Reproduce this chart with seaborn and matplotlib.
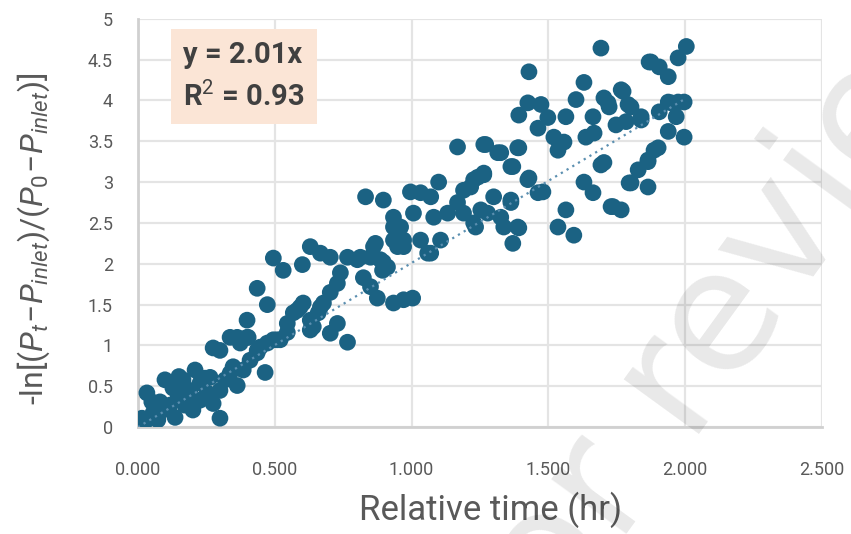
"""
Scatter of linearised pressure decay vs relative time, with zero-intercept fit.
Run: python3 plot.py  -> out.png
"""
import matplotlib
matplotlib.use("Agg")
import matplotlib.pyplot as plt
import numpy as np
import pandas as pd
import seaborn as sns

POINT = "#1b6283"
GRID = "#e4e4e4"
TICK = "#595959"
SLOPE = 2.01
R2 = 0.93

# relative time (hr)
time_hr = [
    0.005, 0.033, 0.055, 0.033, 0.051, 0.081, 0.099, 0.128, 0.136, 0.165,
    0.179, 0.201, 0.209, 0.227, 0.253, 0.264, 0.275, 0.300, 0.300, 0.337,
    0.363, 0.348, 0.385, 0.465, 0.275, 0.300, 0.337, 0.399, 0.374, 0.436,
    0.473, 0.509, 0.546, 0.007, 0.015, 0.073, 0.092, 0.117, 0.147, 0.172,
    0.190, 0.227, 0.245, 0.319, 0.410, 0.150,
    0.495, 0.531, 0.601, 0.630, 0.667, 0.703, 0.766, 0.740, 0.729, 0.802,
    0.850, 0.868, 0.897, 0.894, 0.824, 0.850, 0.875, 0.934, 0.971, 1.004,
    0.934, 0.971, 0.949, 1.033, 1.059, 0.436, 0.473, 0.399, 0.363, 0.403,
    0.447, 0.495, 0.436, 0.546, 0.582, 0.604, 0.641, 0.659, 0.678, 0.703,
    0.703, 0.729, 0.766, 0.630, 0.568, 0.630, 0.520, 0.593, 0.667,
    0.832, 0.897, 0.934, 0.996, 1.033, 1.070, 1.099, 1.007, 1.081, 1.132,
    1.168, 1.216, 1.264, 1.242, 1.190, 1.234, 1.300, 1.278, 1.326, 1.363,
    1.337, 1.388, 1.370, 1.168, 1.264, 1.315, 1.388, 1.363, 1.425, 1.462,
    0.960, 0.934, 0.971, 1.070, 1.106, 0.861, 0.886, 0.813, 0.912,
    1.692, 1.429, 1.875, 1.630, 1.766, 1.601, 1.703, 1.425, 1.473, 1.392,
    1.498, 1.564, 1.663, 1.722, 1.791, 1.839, 1.747, 1.784, 1.462, 1.520,
    1.557, 1.535, 1.637, 1.667, 1.271, 1.326, 1.392, 1.370, 1.886, 1.864,
    1.828, 1.692, 1.429, 1.480, 1.264, 1.227, 1.190, 1.363, 1.253, 1.227,
    1.392, 1.630, 1.663, 1.564, 1.535, 1.593, 1.729, 1.766, 1.795, 1.864,
    2.004, 1.974, 1.868, 1.905, 1.938, 1.773, 1.718, 1.802, 1.839, 1.905,
    1.938, 1.996, 1.967, 1.938, 1.996, 1.901, 1.864, 1.802, 1.736, 1.703,
    1.974, 1.949,
]

# -ln[(Pt - Pinlet)/(P0 - Pinlet)]
log_ratio = [
    0.00, 0.09, 0.17, 0.42, 0.31, 0.31, 0.58, 0.48, 0.12, 0.58,
    0.36, 0.21, 0.70, 0.54, 0.42, 0.61, 0.29, 0.11, 0.45, 0.66,
    0.51, 0.74, 0.70, 0.67, 0.97, 0.94, 1.10, 1.10, 1.03, 0.94,
    1.03, 1.07, 1.16, 0.02, 0.11, 0.09, 0.21, 0.27, 0.39, 0.27,
    0.45, 0.33, 0.60, 0.58, 0.82, 0.62,
    2.07, 1.92, 1.99, 2.21, 2.13, 2.08, 2.08, 1.89, 1.76, 2.05,
    2.08, 2.25, 2.02, 1.92, 1.83, 1.72, 1.58, 1.52, 1.56, 1.58,
    2.45, 2.29, 2.21, 2.29, 2.13, 1.70, 1.50, 1.31, 1.10, 1.10,
    0.98, 1.07, 0.91, 1.27, 1.43, 1.52, 1.23, 1.40, 1.52, 1.65,
    1.15, 1.27, 1.04, 1.31, 1.40, 1.19, 1.07, 1.47, 1.47,
    2.82, 2.78, 2.57, 2.88, 2.87, 2.82, 3.00, 2.62, 2.57, 2.62,
    2.75, 2.94, 3.11, 3.06, 2.62, 2.45, 2.82, 2.62, 2.57, 2.78,
    2.45, 2.45, 2.25, 3.43, 3.46, 3.36, 3.42, 3.19, 3.03, 2.87,
    2.45, 2.29, 2.21, 2.13, 2.29, 2.21, 2.05, 2.08, 1.96,
    4.64, 4.35, 4.47, 4.22, 4.13, 4.01, 4.03, 3.97, 3.95, 3.82,
    3.79, 3.80, 3.80, 3.92, 3.95, 3.80, 3.70, 3.74, 3.66, 3.55,
    3.49, 3.39, 3.55, 3.60, 3.46, 3.36, 3.42, 3.19, 3.39, 3.25,
    3.15, 3.21, 3.05, 2.88, 3.09, 3.03, 2.90, 2.75, 2.66, 2.50,
    2.44, 3.00, 2.87, 2.66, 2.45, 2.35, 2.70, 2.66, 2.99, 2.94,
    4.66, 4.52, 4.47, 4.41, 4.29, 4.11, 3.97, 3.92, 3.76, 3.86,
    3.98, 3.98, 3.80, 3.62, 3.55, 3.42, 3.27, 2.99, 2.70, 3.24,
    3.98, 3.97,
]

x_ticks = [0.0, 0.5, 1.0, 1.5, 2.0, 2.5]
y_ticks = [0, 0.5, 1, 1.5, 2, 2.5, 3, 3.5, 4, 4.5, 5]
y_tick_labels = ["0", "0.5", "1", "1.5", "2", "2.5", "3", "3.5", "4", "4.5", "5"]
fit_x = [0.0, 2.0]


def main() -> None:
    sns.set_theme(style="white")
    plt.rcParams["font.family"] = ["Roboto", "DejaVu Sans"]
    plt.rcParams["mathtext.fontset"] = "custom"
    plt.rcParams["mathtext.rm"] = "Roboto"
    plt.rcParams["mathtext.it"] = "Roboto:italic"
    plt.rcParams["mathtext.bf"] = "Roboto:bold"

    df = pd.DataFrame({"t": time_hr, "y": log_ratio})

    fig = plt.figure(figsize=(8.51, 5.34), dpi=100)
    ax = fig.add_axes([0.162, 0.200, 0.804, 0.765])

    sns.scatterplot(data=df, x="t", y="y", ax=ax, color=POINT, s=145,
                    edgecolor="none", zorder=3)
    fx = np.array(fit_x)
    ax.plot(fx, SLOPE * fx, linestyle=(0, (1, 2)), color="#5b8fb0",
            linewidth=1.6, zorder=4)

    ax.set_xlim(0, 2.5)
    ax.set_ylim(0, 5)
    ax.set_xticks(x_ticks)
    ax.set_xticklabels([f"{v:.3f}" for v in x_ticks])
    ax.set_yticks(y_ticks)
    ax.set_yticklabels(y_tick_labels)
    ax.tick_params(axis="both", colors=TICK, labelsize=13, length=0)
    ax.tick_params(axis="x", pad=24)
    ax.tick_params(axis="y", pad=18)
    ax.grid(True, color=GRID, linewidth=1.6, zorder=0)
    ax.set_axisbelow(True)
    for side in ("top", "right"):
        ax.spines[side].set_visible(False)
    for side in ("left", "bottom"):
        ax.spines[side].set_color("#d0d0d0")
        ax.spines[side].set_linewidth(2)

    ax.set_xlabel("Relative time (hr)", fontsize=25, color=TICK)
    ax.xaxis.set_label_coords(0.515, -0.158)
    ax.set_ylabel(r"-ln$[(P_t\!-\!P_{inlet})/(P_0\!-\!P_{inlet})]$",
                  fontsize=23, color=TICK)
    ax.yaxis.set_label_coords(-0.125, 0.46)

    ax.text(0.066, 0.945, f"y = {SLOPE:.2f}x\nR$^2$ = {R2:.2f}", transform=ax.transAxes,
            ha="left", va="top", fontsize=21, fontweight="bold", color="#404040",
            linespacing=1.5,
            bbox=dict(boxstyle="square,pad=0.42", facecolor="#fbe5d6", edgecolor="none"),
            zorder=5)

    # faint diagonal watermark
    fig.text(0.85, 0.40, "For review", fontsize=122, color="black", alpha=0.09,
             rotation=54, ha="center", va="center", rotation_mode="anchor",
             family="DejaVu Sans", zorder=10)

    fig.savefig("out.png", dpi=100)
    plt.close(fig)


if __name__ == "__main__":
    main()
